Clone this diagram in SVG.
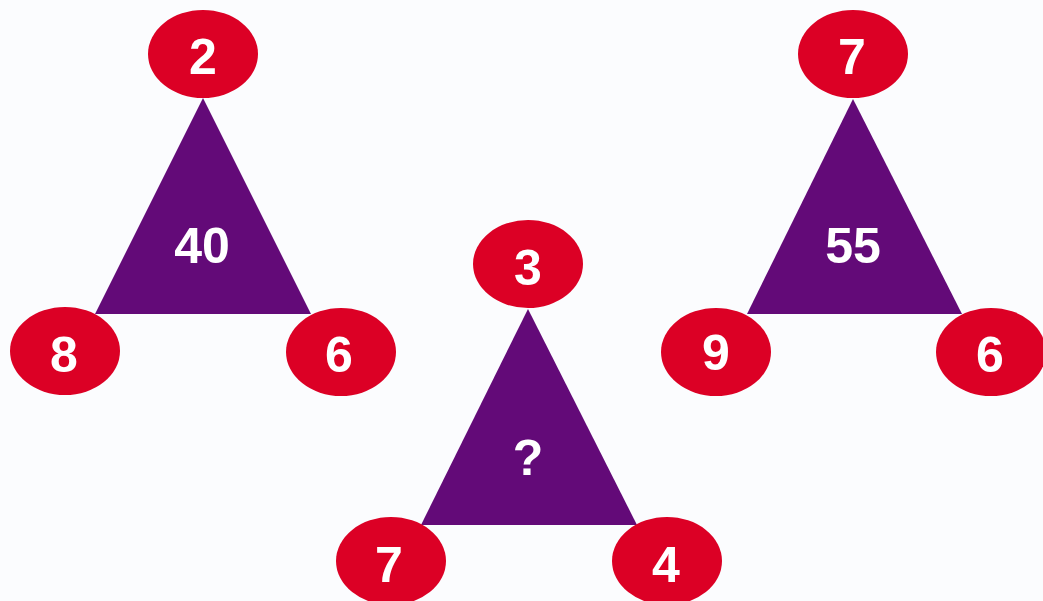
<svg xmlns="http://www.w3.org/2000/svg" width="1043" height="601" viewBox="0 0 1043 601">
<style>
.tri{fill:#630a78}
.node{fill:#dc0025}
.t{fill:#ffffff;font-family:"Liberation Sans",Arial,sans-serif;font-weight:bold;font-size:50px;text-anchor:middle}
</style>
<rect width="1043" height="601" fill="#fbfcfe"/>
<g id="connectors"></g>
<g id="tri-left">
<polygon class="tri" points="203,98 95,314 311,314"/>
<text class="t" x="202" y="263">40</text>
</g>
<g id="tri-middle">
<polygon class="tri" points="528,309 421,525 637,525"/>
<text class="t" x="528" y="475">?</text>
</g>
<g id="tri-right">
<polygon class="tri" points="853,99 747,314 962,314"/>
<text class="t" x="853" y="263">55</text>
</g>
<g id="n-l-top"><ellipse class="node" cx="203" cy="54" rx="55" ry="44"/><text class="t" x="203" y="74">2</text></g>
<g id="n-l-left"><ellipse class="node" cx="65" cy="351" rx="55" ry="44"/><text class="t" x="64" y="372">8</text></g>
<g id="n-l-right"><ellipse class="node" cx="341" cy="352" rx="55" ry="44"/><text class="t" x="339" y="372">6</text></g>
<g id="n-m-top"><ellipse class="node" cx="528" cy="264" rx="55" ry="44"/><text class="t" x="528" y="285">3</text></g>
<g id="n-m-left"><ellipse class="node" cx="391" cy="561" rx="55" ry="44"/><text class="t" x="389" y="582">7</text></g>
<g id="n-m-right"><ellipse class="node" cx="667" cy="561" rx="55" ry="44"/><text class="t" x="666" y="582">4</text></g>
<g id="n-r-top"><ellipse class="node" cx="853" cy="54" rx="55" ry="44"/><text class="t" x="852" y="74">7</text></g>
<g id="n-r-left"><ellipse class="node" cx="716" cy="352" rx="55" ry="44"/><text class="t" x="716" y="370">9</text></g>
<g id="n-r-right"><ellipse class="node" cx="991" cy="352" rx="55" ry="44"/><text class="t" x="990" y="372">6</text></g>
</svg>
